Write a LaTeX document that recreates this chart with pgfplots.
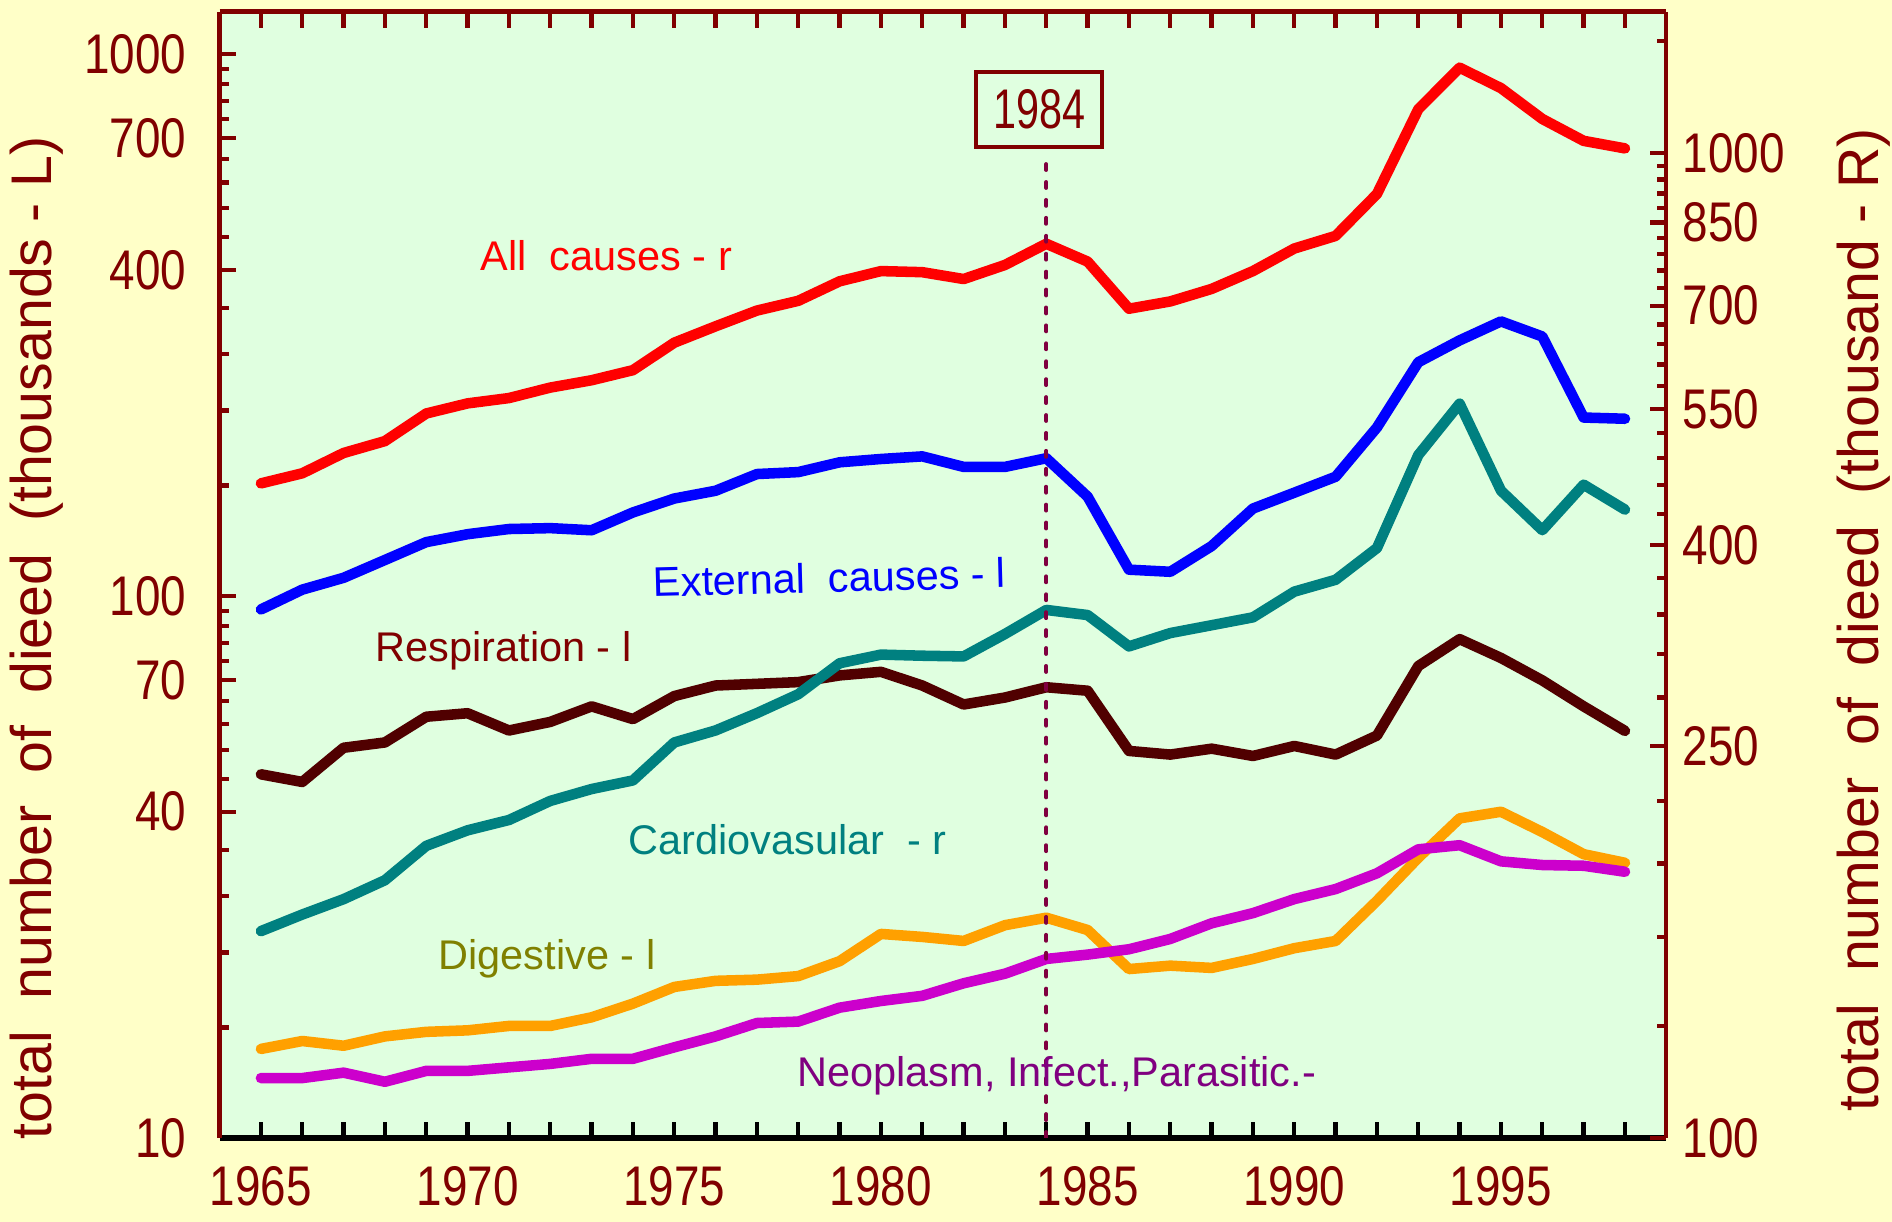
\documentclass[border=0pt]{standalone}
\usepackage{pgfplots}
\pgfplotsset{compat=1.18}
\usepackage{pgfplotstable}
\usepackage{fontspec}
\setmainfont{Liberation Sans}
\newfontfamily\condfont[FakeStretch=0.82]{Liberation Sans}
\newfontfamily\boxfont[FakeStretch=0.74]{Liberation Sans}

\definecolor{bgyellow}{HTML}{FFFFC8}
\definecolor{plotgreen}{HTML}{E0FFE0}
\definecolor{axisred}{HTML}{800000}
\definecolor{allred}{HTML}{FF0000}
\definecolor{extblue}{HTML}{0000FF}
\definecolor{cardteal}{HTML}{008080}
\definecolor{respbrown}{HTML}{500000}
\definecolor{digorange}{HTML}{FFA000}
\definecolor{neomag}{HTML}{CC00CC}
\definecolor{digtext}{HTML}{808000}
\definecolor{neotext}{HTML}{800080}
\definecolor{markline}{HTML}{800040}

% left-axis series (thousands)
\pgfplotstableread{
year ext   resp dig  neo
1965 94.5  46.9 14.6 12.9
1966 102.8 45.4 15.1 12.9
1967 108.1 52.5 14.8 13.2
1968 116.6 53.7 15.4 12.7
1969 125.8 59.9 15.7 13.3
1970 130.1 60.8 15.8 13.3
1971 133.0 56.5 16.1 13.5
1972 133.5 58.6 16.1 13.7
1973 132.3 62.6 16.7 14.0
1974 142.7 59.3 17.7 14.0
1975 151.4 65.4 19.0 14.7
1976 156.5 68.4 19.5 15.4
1977 168.0 68.9 19.6 16.3
1978 169.4 69.4 19.9 16.4
1979 176.6 71.4 21.2 17.4
1980 179.1 72.5 23.8 17.9
1981 181.1 68.4 23.5 18.3
1982 173.2 63.1 23.1 19.3
1983 173.2 65.0 24.7 20.1
1984 179.7 67.9 25.5 21.4
1985 152.6 66.9 24.2 21.8
1986 111.9 51.8 20.5 22.3
1987 110.9 51.0 20.8 23.3
1988 123.7 52.3 20.6 24.9
1989 145.1 50.7 21.4 26.0
1990 155.2 52.9 22.4 27.6
1991 166.1 51.0 23.1 28.8
1992 204.8 55.3 27.4 30.8
1993 270.2 74.3 32.9 34.1
1994 296.5 83.3 38.9 34.7
1995 321.4 76.9 40.0 32.4
1996 301.4 69.9 36.7 31.9
1997 213.6 62.6 33.4 31.8
1998 212.5 56.4 32.2 31.0
}\lefttab

% right-axis series (thousand)
\pgfplotstableread{
year all  cardio
1965 462  162.2
1966 473  168.6
1967 496  174.8
1968 510  182.7
1969 544  198.0
1970 557  205.3
1971 564  210.3
1972 578  219.9
1973 588  226.1
1974 602  230.7
1975 642  252.1
1976 667  259.3
1977 692  270.0
1978 708  282.2
1979 741  303.4
1980 759  309.6
1981 757  308.8
1982 745  308.3
1983 770  324.9
1984 809  343.7
1985 776  339.6
1986 695  315.6
1987 707  325.6
1988 728  331.6
1989 759  337.8
1990 800  358.7
1991 824  368.8
1992 909  397.2
1993 1108 493.6
1994 1221 556.6
1995 1164 454.2
1996 1083 414.1
1997 1029 460.6
1998 1011 434.5
}\righttab

\pgfplotsset{
  common/.style={
    scale only axis, width=14.467cm, height=11.26cm,
    at={(2.196cm,0.84cm)}, anchor=south west,
    xmin=1964, xmax=1999,
    major tick length=1.6mm, minor tick length=0.9mm,
    tick style={line width=1.2pt},
    ticklabel style={font=\condfont\fontsize{15.9}{18}\selectfont, text=axisred},
    every axis plot/.append style={line width=3pt, line cap=round, line join=round},
  },
}
\tikzset{lab/.style={anchor=base west, inner sep=0pt, font=\fontsize{11.8}{14}\selectfont}}

\begin{document}
\begin{tikzpicture}
\path[use as bounding box, fill=bgyellow] (0,0) rectangle (18.92,12.22);

\begin{axis}[common, ymode=log,
  ymin=10, ymax=1197,
  axis y line*=left, axis x line*=bottom,
  tick align=inside,
  axis background/.style={fill=plotgreen},
  x axis line style={black, line width=1.7pt},
  y axis line style={axisred, line width=1.2pt},
  x tick style={black, line width=1.2pt},
  y tick style={axisred, line width=1.2pt},
  xtick={1965,...,1998},
  xticklabels={1965,,,,,1970,,,,,1975,,,,,1980,,,,,1985,,,,,1990,,,,,1995,,,},
  xticklabel style={yshift=-1.6mm},
  ytick={10,40,70,100,400,700,1000},
  yticklabels={10,40,70,100,400,700,1000},
  minor ytick={16,22,28,34,46,52,58,64,76,82,88,94,160,220,280,340,460,520,580,640,760,820,880,940},
  yticklabel style={xshift=-2.1mm},
]
\addplot[extblue]   table[x=year, y=ext]  {\lefttab};
\addplot[respbrown] table[x=year, y=resp] {\lefttab};
\addplot[digorange] table[x=year, y=dig]  {\lefttab};
\addplot[neomag]    table[x=year, y=neo]  {\lefttab};
\end{axis}

\begin{axis}[common, ymode=log,
  ymin=100, ymax=1391,
  axis y line*=right, axis x line*=top,
  tick align=inside,
  x axis line style={axisred, line width=1.4pt},
  y axis line style={axisred, line width=1.2pt},
  x tick style={axisred, line width=1.2pt},
  y tick style={axisred, line width=1.2pt},
  xtick={1965,...,1998}, xticklabels={\empty},
  ytick={100,250,400,550,700,850,1000},
  yticklabels={100,250,400,550,700,850,1000},
  minor ytick={130,160,190,220,280,310,340,370,430,460,490,520,580,610,640,670,730,760,790,820,880,910,940,970,1300},
  yticklabel style={xshift=0.4mm},
]
\addplot[cardteal] table[x=year, y=cardio] {\righttab};
\addplot[allred]   table[x=year, y=all]    {\righttab};
\draw[markline, line width=1.1pt, line cap=round, dash pattern=on 1.7pt off 3.4pt]
  (axis cs:1984,100) -- (axis cs:1984,980);
\end{axis}

\node[draw=axisred, line width=1.2pt, minimum width=1.26cm, minimum height=0.75cm,
  inner sep=0pt, text=axisred, font=\boxfont\fontsize{15.9}{18}\selectfont]
  at (10.39,11.125) {1984};

\node[lab, text=allred] at (4.80,9.51) {All~~causes - r};
\node[lab, text=extblue, rotate=1.5] at (6.53,6.25) {External~~causes - l};
\node[lab, text=axisred] at (3.75,5.604) {Respiration - l};
\node[lab, text=cardteal] at (6.28,3.676) {Cardiovasular~~- r};
\node[lab, text=digtext] at (4.38,2.522) {Digestive - l};
\node[lab, text=neotext] at (7.967,1.351) {Neoplasm, Infect.,Parasitic.-};

\node[rotate=90, text=axisred, font=\fontsize{16.3}{19}\selectfont]
  at (0.37,5.84) {total~~number~~of~~dieed~~(thousands - L)};
\node[rotate=90, text=axisred, font=\fontsize{16.3}{19}\selectfont]
  at (18.64,6.02) {total~~number~~of~~dieed~~(thousand - R)};
\end{tikzpicture}
\end{document}
